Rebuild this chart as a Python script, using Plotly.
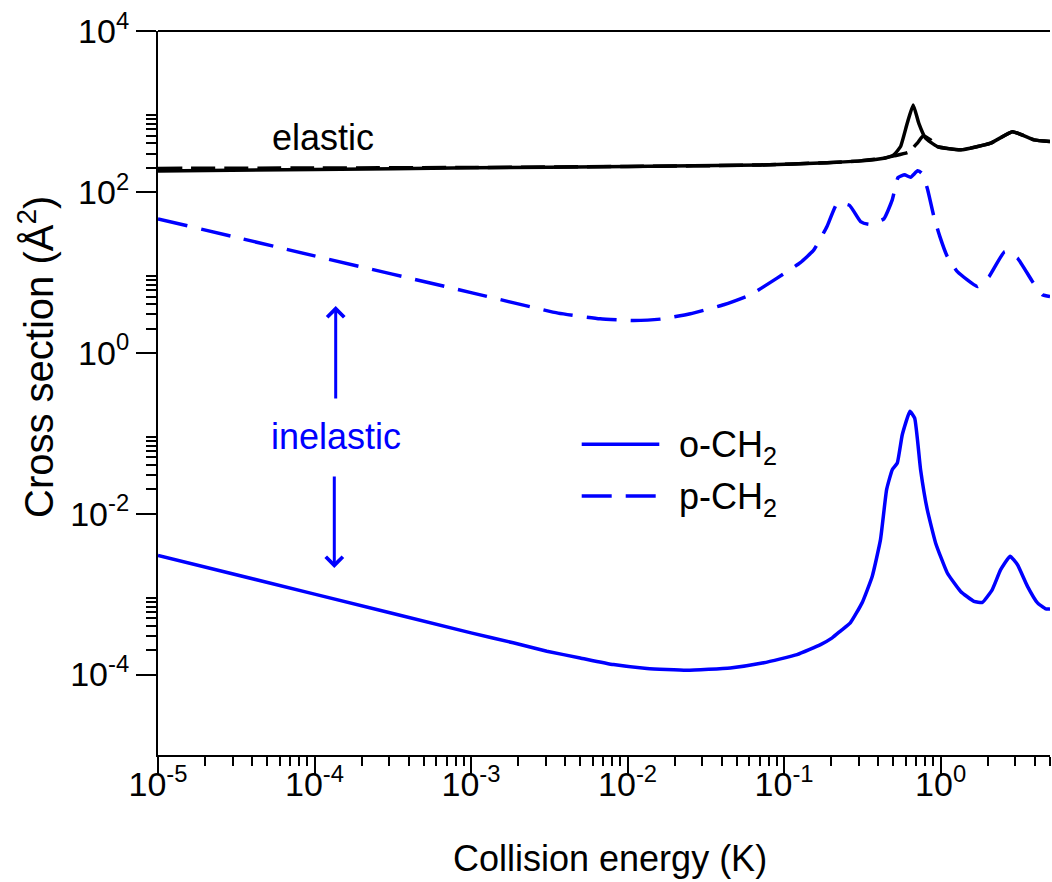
import numpy as np
import plotly.graph_objects as go

# ---------------- data ----------------
# elastic, o-CH2 (solid black)
el_o_E = [1e-5, 1e-4, 1e-3, 1e-2, 0.0705, 0.188, 0.308, 0.434, 0.502, 0.555, 0.612, 0.668,
          0.726, 0.802, 0.953, 1.343, 2.09, 2.88, 3.95, 5.0]
el_o_s = [182, 190, 199, 207, 216, 231, 243, 262, 288, 366, 713, 1205,
          713, 465, 366, 333, 403, 561, 443, 422]

# elastic, p-CH2 (dashed black)
el_p_E = [1e-5, 1e-4, 1e-3, 1e-2, 0.0705, 0.188, 0.308, 0.434, 0.502, 0.62, 0.71, 0.773,
          0.863, 0.953, 1.343, 2.09, 2.88, 3.95, 5.0]
el_p_s = [196, 198, 201, 207, 216, 231, 243, 262, 280, 310, 403, 496,
          442, 366, 333, 403, 561, 443, 422]

# inelastic, o-CH2 (solid blue)
in_o_E = [1e-5, 1e-4, 1e-3, 1.86e-3, 3.05e-3, 4.98e-3, 8.13e-3, 0.0133, 0.0239,
          0.0453, 0.0741, 0.121, 0.171, 0.203, 0.23, 0.265, 0.315, 0.366, 0.413, 0.452,
          0.491, 0.529, 0.569, 0.637, 0.683, 0.745, 0.822, 0.929, 1.104, 1.343, 1.634,
          1.849, 2.14, 2.42, 2.78, 3.10, 3.59, 4.16, 4.70, 5.0]
in_o_s = [3.03e-3, 1.0e-3, 3.3e-4, 2.48e-4, 1.95e-4, 1.61e-4, 1.33e-4, 1.19e-4, 1.13e-4,
          1.21e-4, 1.40e-4, 1.77e-4, 2.36e-4, 2.86e-4, 3.5e-4, 4.39e-4, 7.78e-4, 1.67e-3, 4.75e-3, 0.0199,
          0.0352, 0.0427, 0.0958, 0.187, 0.154, 0.0352, 0.0112, 4.33e-3, 1.83e-3, 1.08e-3, 8.13e-4,
          7.9e-4, 1.14e-3, 2.01e-3, 2.95e-3, 2.32e-3, 1.25e-3, 7.78e-4, 6.55e-4, 6.55e-4]

# inelastic, p-CH2 (dashed blue)
in_p_E = [1e-5, 1e-4, 1e-3, 3.6e-3, 6.68e-3, 0.0109, 0.0162, 0.0252, 0.0411, 0.0608, 0.0902,
          0.127, 0.155, 0.188, 0.219, 0.262, 0.308, 0.348, 0.434, 0.491, 0.535, 0.589, 0.643,
          0.713, 0.755, 0.822, 0.906, 0.986, 1.104, 1.28, 1.72, 2.04, 2.57, 3.10, 3.86, 4.48, 5.0]
in_p_s = [46.2, 16.0, 5.6, 3.11, 2.64, 2.52, 2.62, 3.05, 3.95, 5.25, 8.47,
          13.2, 19.0, 37.1, 72.4, 68.0, 42.8, 39.5, 46.2, 79.6, 151, 163, 152,
          183, 172, 111, 49.3, 28.4, 15.7, 10.2, 6.66, 8.87, 18.1, 15.0, 7.69, 5.25, 5.0]

x_tickvals = [1e-5, 1e-4, 1e-3, 1e-2, 1e-1, 1e0]
x_ticktext = ["10<sup>-5</sup>", "10<sup>-4</sup>", "10<sup>-3</sup>", "10<sup>-2</sup>",
              "10<sup>-1</sup>", "10<sup>0</sup>"]
y_tickvals = [1e-4, 1e-2, 1e0, 1e2, 1e4]
y_ticktext = ["10<sup>-4</sup>", "10<sup>-2</sup>", "10<sup>0</sup>", "10<sup>2</sup>",
              "10<sup>4</sup>"]

x_minor = [m * 10.0 ** d for d in range(-5, 1) for m in range(2, 10) if m * 10.0 ** d <= 5.0001]
y_minor = [m * 10.0 ** d for d in (-4, -2, 0, 2) for m in range(2, 10)]

FONT = "Liberation Sans, Arial, sans-serif"
FS_TICK = 34
FS = 36
FS_YT = 40
BLUE = "#0000ff"

fig = go.Figure()
fig.add_trace(go.Scatter(x=el_p_E, y=el_p_s, mode="lines",
                         line=dict(color="black", width=3.5, dash="24px,9px", shape="spline", smoothing=0.4)))
fig.add_trace(go.Scatter(x=el_o_E, y=el_o_s, mode="lines",
                         line=dict(color="black", width=3.5, shape="spline", smoothing=0.4)))
fig.add_trace(go.Scatter(x=in_p_E, y=in_p_s, mode="lines",
                         line=dict(color=BLUE, width=3.5, dash="30px,14px", shape="spline", smoothing=0.4)))
fig.add_trace(go.Scatter(x=in_o_E, y=in_o_s, mode="lines",
                         line=dict(color=BLUE, width=3.5, shape="spline", smoothing=0.4)))

axis_common = dict(showline=True, linecolor="black", linewidth=2, ticks="outside",
                   tickcolor="black", tickwidth=2, showgrid=False, zeroline=False,
                   tickfont=dict(family=FONT, size=FS_TICK, color="black"), tickmode="array")

fig.update_xaxes(type="log", range=[-5, np.log10(5.0)], tickvals=x_tickvals, ticktext=x_ticktext,
                 ticklen=18, ticklabelstandoff=-20,
                 minor=dict(tickmode="array", tickvals=x_minor, ticks="outside", ticklen=9,
                            tickwidth=1.5, tickcolor="black", showgrid=False),
                 **axis_common)
fig.update_yaxes(type="log", range=[-5, 4], tickvals=y_tickvals, ticktext=y_ticktext,
                 ticklen=20,
                 minor=dict(tickmode="array", tickvals=y_minor, ticks="outside", ticklen=10,
                            tickwidth=1.5, tickcolor="black", showgrid=False),
                 **axis_common)

L, R, T, B = 158, 2, 31, 127
W, H = 1052, 882
pw, ph = W - L - R, H - T - B

def px(xp):
    return (xp - L) / pw

def py(yp):
    return (H - B - yp) / ph

shapes = [
    dict(type="line", xref="paper", yref="paper", x0=0, x1=1, y0=1, y1=1,
         line=dict(color="black", width=2)),
    dict(type="line", xref="paper", yref="paper", x0=px(581.7), x1=px(659.3),
         y0=py(444.3), y1=py(444.3), line=dict(color=BLUE, width=3.5)),
    dict(type="line", xref="paper", yref="paper", x0=px(581.7), x1=px(655.7),
         y0=py(496), y1=py(496), line=dict(color=BLUE, width=3.5, dash="30px,14px")),
]

annotations = [
    dict(text="Collision energy (K)", xref="paper", yref="paper", x=px(610), y=py(858),
         showarrow=False, font=dict(family=FONT, size=FS, color="black"),
         xanchor="center", yanchor="middle"),
    dict(text="Cross section (Å<sup>2</sup>)", xref="paper", yref="paper", x=px(36), y=py(357),
         showarrow=False, textangle=-90, font=dict(family=FONT, size=FS_YT, color="black"),
         xanchor="center", yanchor="middle"),
    dict(text="elastic", xref="paper", yref="paper", x=px(323), y=py(137), showarrow=False,
         font=dict(family=FONT, size=FS, color="black"), xanchor="center", yanchor="middle"),
    dict(text="inelastic", xref="paper", yref="paper", x=px(336), y=py(437), showarrow=False,
         font=dict(family=FONT, size=FS, color=BLUE), xanchor="center", yanchor="middle"),
    dict(text="o-CH<sub>2</sub>", xref="paper", yref="paper", x=px(677), y=py(447), showarrow=False,
         font=dict(family=FONT, size=FS, color="black"), xanchor="left", yanchor="middle"),
    dict(text="p-CH<sub>2</sub>", xref="paper", yref="paper", x=px(677), y=py(499), showarrow=False,
         font=dict(family=FONT, size=FS, color="black"), xanchor="left", yanchor="middle"),
    dict(text="", xref="paper", yref="paper", x=px(335.7), y=py(306), ax=0, ay=94,
         showarrow=True, arrowhead=4, arrowsize=1.1, arrowwidth=3, arrowcolor=BLUE),
    dict(text="", xref="paper", yref="paper", x=px(334.3), y=py(568), ax=0, ay=-93,
         showarrow=True, arrowhead=4, arrowsize=1.1, arrowwidth=3, arrowcolor=BLUE),
]

fig.update_layout(width=W, height=H, margin=dict(l=L, r=R, t=T, b=B, pad=0),
                  plot_bgcolor="white", paper_bgcolor="white", showlegend=False,
                  shapes=shapes, annotations=annotations,
                  font=dict(family=FONT, size=FS, color="black"))

fig.write_html("out.html")
